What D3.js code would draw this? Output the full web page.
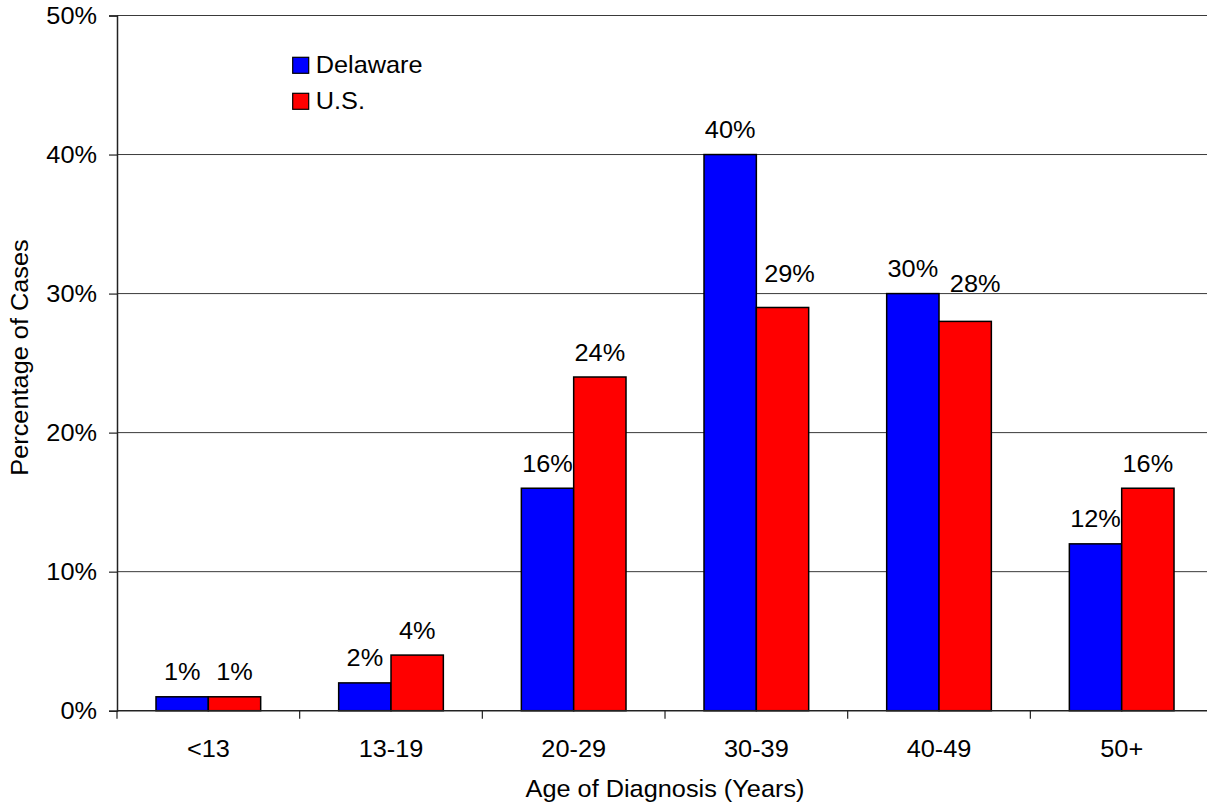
<!DOCTYPE html>
<html>
<head>
<meta charset="utf-8">
<script src="https://cdn.jsdelivr.net/npm/d3@7"></script>
<style>
  html, body { margin: 0; padding: 0; background: #fff; overflow: hidden; }
  svg { display: block; font-family: "Liberation Sans", Arial, Helvetica, sans-serif; }
</style>
</head>
<body>
<svg id="chart" width="1207" height="807"></svg>
<script>
// Age groups at diagnosis
const categories = ["<13", "13-19", "20-29", "30-39", "40-49", "50+"];
const seriesNames = ["Delaware", "U.S."];
const delaware = [1, 2, 16, 40, 30, 12];
const us = [1, 4, 24, 29, 28, 16];
const yTicks = [0, 10, 20, 30, 40, 50];
const colors = ["#0000ff", "#ff0000"];

// Hand-nudged labels where neighbouring labels would collide: [dx, extra dy]
const labelNudge = { "3-1": [7, -9], "4-1": [10, -13] };

(function () {
  const svg = d3.select("#chart");
  const plotLeft = 117, plotTop = 15.5, plotBottom = 710.7;
  const band = 182.67;
  const plotRight = plotLeft + band * categories.length;
  const FS = 24, SX = 1.055;

  const x = d3.scaleBand().domain(categories).range([plotLeft, plotRight]).padding(0);
  const barW = x.bandwidth() * 0.2865;
  const groupOff = (x.bandwidth() - 2 * barW) / 2;
  const y = d3.scaleLinear().domain([0, 50]).range([plotBottom, plotTop]);

  function hText(g, tx, ty, str, anchor) {
    return g.append("text")
      .attr("transform", `translate(${tx},${ty}) scale(${SX},1)`)
      .attr("text-anchor", anchor || "middle")
      .attr("font-size", FS)
      .attr("fill", "#000")
      .text(str);
  }

  // gridlines
  svg.append("g")
    .selectAll("line")
    .data(yTicks.filter(t => t > 0))
    .join("line")
    .attr("x1", plotLeft).attr("x2", plotRight)
    .attr("y1", d => y(d)).attr("y2", d => y(d))
    .attr("stroke", "#3a3a3a").attr("stroke-width", 1);

  // bars
  const series = [delaware, us];
  const barsG = svg.append("g");
  series.forEach((vals, si) => {
    barsG.selectAll(null)
      .data(vals.map((v, i) => ({ v, i })))
      .join("rect")
      .attr("x", d => x(categories[d.i]) + groupOff + si * barW)
      .attr("y", d => y(d.v))
      .attr("width", barW)
      .attr("height", d => y(0) - y(d.v))
      .attr("fill", colors[si])
      .attr("stroke", "#000")
      .attr("stroke-width", 1.5);
  });

  // value labels
  const labG = svg.append("g");
  series.forEach((vals, si) => {
    vals.forEach((v, i) => {
      const n = labelNudge[i + "-" + si] || [0, 0];
      const cx = x(categories[i]) + groupOff + si * barW + barW / 2 + n[0];
      hText(labG, cx, y(v) - 16.5 + n[1], v + "%");
    });
  });

  // y axis
  const yAxis = d3.axisLeft(y).tickValues(yTicks).tickFormat(d => d + "%").tickSize(8).tickPadding(12);
  const yG = svg.append("g").attr("transform", `translate(${plotLeft},0)`).call(yAxis);
  yG.select(".domain").attr("stroke", "#222").attr("stroke-width", 1.5);
  yG.selectAll(".tick line").attr("stroke", "#222").attr("stroke-width", 1.2);
  yG.selectAll(".tick text").remove();
  yTicks.forEach(t => hText(svg, 97, y(t) + 8.6, t + "%", "end"));

  // x axis with ticks at band boundaries
  const xG = svg.append("g");
  xG.append("line").attr("x1", plotLeft).attr("x2", plotRight).attr("y1", plotBottom).attr("y2", plotBottom)
    .attr("stroke", "#222").attr("stroke-width", 1.5);
  xG.selectAll(".xt")
    .data(d3.range(categories.length + 1))
    .join("line")
    .attr("x1", i => plotLeft + i * x.step()).attr("x2", i => plotLeft + i * x.step())
    .attr("y1", plotBottom).attr("y2", plotBottom + 8)
    .attr("stroke", "#222").attr("stroke-width", 1.2);
  categories.forEach(c => hText(xG, x(c) + x.bandwidth() / 2, 756.7, c));

  // axis titles
  hText(svg, (plotLeft + plotRight) / 2, 797, "Age of Diagnosis (Years)");
  svg.append("text")
    .attr("transform", `translate(27.5,357.5) rotate(-90) scale(${SX},1)`)
    .attr("text-anchor", "middle")
    .attr("font-size", FS)
    .text("Percentage of Cases");

  // legend
  const legend = svg.append("g");
  seriesNames.forEach((name, i) => {
    legend.append("rect")
      .attr("x", 292.7).attr("y", 57.3 + i * 36)
      .attr("width", 16).attr("height", 16)
      .attr("fill", colors[i]).attr("stroke", "#000").attr("stroke-width", 1.2);
    hText(legend, 315.7, 73.3 + i * 36, name, "start");
  });
})();
</script>
</body>
</html>
